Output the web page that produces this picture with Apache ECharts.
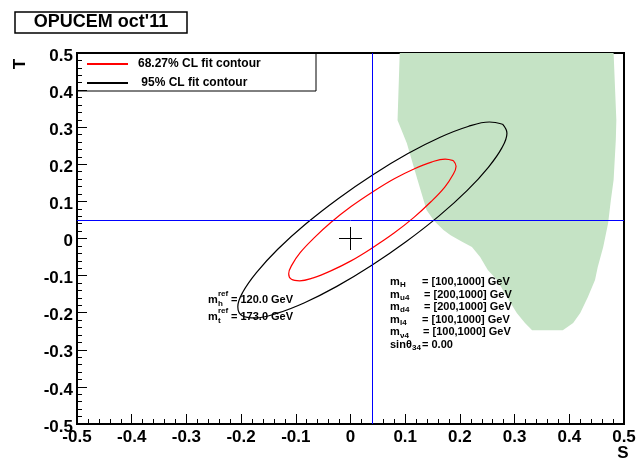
<!DOCTYPE html>
<html>
<head>
<meta charset="utf-8">
<title>OPUCEM oct'11</title>
<script src="https://cdn.jsdelivr.net/npm/echarts@6/dist/echarts.min.js"></script>
<style>
  html, body { margin: 0; padding: 0; background: #fff; }
  #chart { width: 644px; height: 461px; }
</style>
</head>
<body>
<div id="chart"></div>
<script>
// axes: S (x) and T (y)
const axisMin = -0.5;
const axisMax = 0.5;
const axisStep = 0.1;

// reference point (blue lines)
const refS = 0.04;
const refT = 0.05;

// best fit point and its cross
const fitS = 0;
const fitT = 0;
const crossS = 0.021;
const crossT = 0.031;

// 68.27% CL contour
const cl68S = [0.188, 0.173, 0.148, 0.117, 0.080, 0.041, 0.001, -0.036, -0.067, -0.092, -0.107, -0.113,
  -0.108, -0.093, -0.068, -0.037, 0.000, 0.039, 0.079, 0.116, 0.147, 0.172, 0.187, 0.193, 0.188];
const cl68T = [0.210, 0.214, 0.206, 0.188, 0.161, 0.126, 0.086, 0.043, 0.001, -0.038, -0.071, -0.095,
  -0.110, -0.114, -0.106, -0.088, -0.061, -0.026, 0.014, 0.057, 0.099, 0.138, 0.171, 0.195, 0.210];

// 95% CL contour
const cl95S = [0.278, 0.254, 0.215, 0.164, 0.105, 0.041, -0.022, -0.082, -0.133, -0.172, -0.197, -0.206,
  -0.198, -0.174, -0.135, -0.084, -0.025, 0.039, 0.102, 0.162, 0.213, 0.252, 0.277, 0.286, 0.278];
const cl95T = [0.308, 0.314, 0.302, 0.273, 0.229, 0.172, 0.108, 0.039, -0.029, -0.092, -0.145, -0.184,
  -0.208, -0.214, -0.202, -0.173, -0.129, -0.072, -0.008, 0.061, 0.129, 0.192, 0.245, 0.284, 0.308];

// allowed region (green), boundary points
const allowedS = [0.090, 0.086, 0.103, 0.121, 0.139, 0.153, 0.170, 0.183, 0.204, 0.222, 0.237, 0.251,
  0.268, 0.286, 0.304, 0.319, 0.332, 0.388, 0.396, 0.407, 0.420, 0.434, 0.447, 0.452, 0.462, 0.471,
  0.476, 0.481, 0.485, 0.486, 0.483, 0.481];
const allowedT = [0.500, 0.319, 0.257, 0.166, 0.077, 0.047, 0.023, 0.009, -0.009, -0.023, -0.050, -0.085,
  -0.112, -0.158, -0.201, -0.228, -0.247, -0.247, -0.239, -0.228, -0.201, -0.158, -0.112, -0.077, -0.023, 0.042,
  0.104, 0.158, 0.265, 0.319, 0.427, 0.500];

// legend and annotations
const cl68Name = '68.27% CL fit contour';
const cl95Name = ' 95% CL fit contour';
const refSubs = ['h', 't'];
const refValues = ['= 120.0 GeV', '= 173.0 GeV'];
const paramSubs = ['H', 'u4', 'd4', 'l4', 'ν4'];
const paramRanges = ['= [100,1000] GeV', '= [200,1000] GeV', '= [200,1000] GeV', '= [100,1000] GeV', '= [100,1000] GeV'];
const sinValue = '= 0.00';

const FONT = '"Liberation Sans", Arial, Helvetica, sans-serif';

function zip(xs, ys) {
  return xs.map((x, i) => [x, ys[i]]);
}

function txt(x, y, text, size, align, extra) {
  return Object.assign({
    type: 'text',
    x: x,
    y: y,
    z: 100,
    style: {
      text: text,
      fill: '#000',
      font: 'bold ' + size + 'px ' + FONT,
      textAlign: align || 'left',
      align: align || 'left',
      textVerticalAlign: 'middle',
      verticalAlign: 'middle'
    }
  }, extra || {});
}

function tickLabel(v) {
  return String(Math.round(v * 10) / 10);
}

const graphics = [];
// title box
graphics.push({
  type: 'rect', z: 99,
  shape: { x: 15, y: 12, width: 172, height: 21 },
  style: { fill: '#fff', stroke: '#000', lineWidth: 1.5 }
});
graphics.push(txt(101, 22.5, "OPUCEM oct'11", 18, 'center'));
// legend box
graphics.push({
  type: 'rect', z: 99,
  shape: { x: 77, y: 53, width: 239, height: 38 },
  style: { fill: null, stroke: '#000', lineWidth: 1 }
});
// axis titles
graphics.push(txt(623, 453, 'S', 17, 'center'));
graphics.push(txt(20, 64, 'T', 17, 'center', { rotation: Math.PI / 2 }));
// reference masses
refSubs.forEach((sub, i) => {
  const y = 300 + i * 16.5;
  graphics.push(txt(208, y, 'm', 11));
  graphics.push(txt(218, y - 6, 'ref', 8));
  graphics.push(txt(218, y + 4, sub, 8));
  graphics.push(txt(231, y, refValues[i], 11));
});
// scan ranges
const eqX = [422, 424, 424, 422, 423];
paramSubs.forEach((sub, i) => {
  const y = 282 + i * 12.6;
  graphics.push(txt(390, y, 'm', 11));
  graphics.push(txt(400, y + 3, sub, 8));
  graphics.push(txt(eqX[i], y, paramRanges[i], 11));
});
graphics.push(txt(390, 345, 'sinθ', 11));
graphics.push(txt(412, 348, '34', 8));
graphics.push(txt(422, 345, sinValue, 11));

const chart = echarts.init(document.getElementById('chart'), null, { renderer: 'canvas' });

const axisCommon = {
  type: 'value',
  min: axisMin,
  max: axisMax,
  interval: axisStep,
  axisLine: { show: true, onZero: false, lineStyle: { color: '#000', width: 2 } },
  axisTick: { show: true, inside: true, length: 10, lineStyle: { color: '#000', width: 1 } },
  minorTick: { show: true, splitNumber: 5, length: 5, lineStyle: { color: '#000', width: 1 } },
  splitLine: { show: false },
  minorSplitLine: { show: false }
};

chart.setOption({
  animation: false,
  backgroundColor: '#fff',
  grid: {
    left: 77, right: 20, top: 53, bottom: 37,
    show: true, borderColor: '#000', borderWidth: 2, backgroundColor: 'transparent'
  },
  xAxis: Object.assign({}, axisCommon, {
    axisLabel: { color: '#000', fontFamily: FONT, fontWeight: 'bold', fontSize: 17, margin: 5, formatter: tickLabel }
  }),
  yAxis: Object.assign({}, axisCommon, {
    axisLabel: { color: '#000', fontFamily: FONT, fontWeight: 'bold', fontSize: 17, margin: 4,
      verticalAlign: 'top', lineHeight: 6, formatter: tickLabel }
  }),
  legend: {
    orient: 'vertical',
    left: 77, top: 53,
    padding: [5, 0, 2, 9],
    itemWidth: 41, itemHeight: 14, itemGap: 7,
    selectedMode: false,
    itemStyle: { opacity: 0 },
    textStyle: { color: '#000', fontFamily: FONT, fontWeight: 'bold', fontSize: 12, padding: [0, 0, 0, 5] },
    data: [cl68Name, cl95Name]
  },
  graphic: graphics,
  series: [
    {
      name: 'allowed',
      type: 'custom',
      z: 1,
      clip: true,
      silent: true,
      data: [[allowedS[0], allowedT[0]]],
      renderItem: function (params, api) {
        const pts = allowedS.map((s, i) => api.coord([s, allowedT[i]]));
        return {
          type: 'polygon',
          shape: { points: pts },
          style: { fill: '#c5e3c5', stroke: null }
        };
      }
    },
    {
      name: 'ref',
      type: 'line',
      z: 2,
      symbol: 'none',
      data: [[refS, refT]],
      markLine: {
        silent: true,
        symbol: 'none',
        label: { show: false },
        lineStyle: { color: '#0000ff', width: 1, type: 'solid' },
        data: [{ xAxis: refS }, { yAxis: refT }]
      }
    },
    {
      name: cl95Name,
      type: 'line',
      z: 3,
      symbol: 'none',
      smooth: 0.4,
      lineStyle: { color: '#000', width: 1.2 },
      itemStyle: { color: '#000' },
      data: zip(cl95S, cl95T)
    },
    {
      name: cl68Name,
      type: 'line',
      z: 3,
      symbol: 'none',
      smooth: 0.4,
      lineStyle: { color: '#ff0000', width: 1.2 },
      itemStyle: { color: '#ff0000' },
      data: zip(cl68S, cl68T)
    },
    {
      name: 'fit-s',
      type: 'line',
      z: 3,
      symbol: 'none',
      lineStyle: { color: '#000', width: 1 },
      data: [[fitS - crossS, fitT], [fitS + crossS, fitT]]
    },
    {
      name: 'fit-t',
      type: 'line',
      z: 3,
      symbol: 'none',
      lineStyle: { color: '#000', width: 1 },
      data: [[fitS, fitT - crossT], [fitS, fitT + crossT]]
    }
  ]
});
</script>
</body>
</html>
